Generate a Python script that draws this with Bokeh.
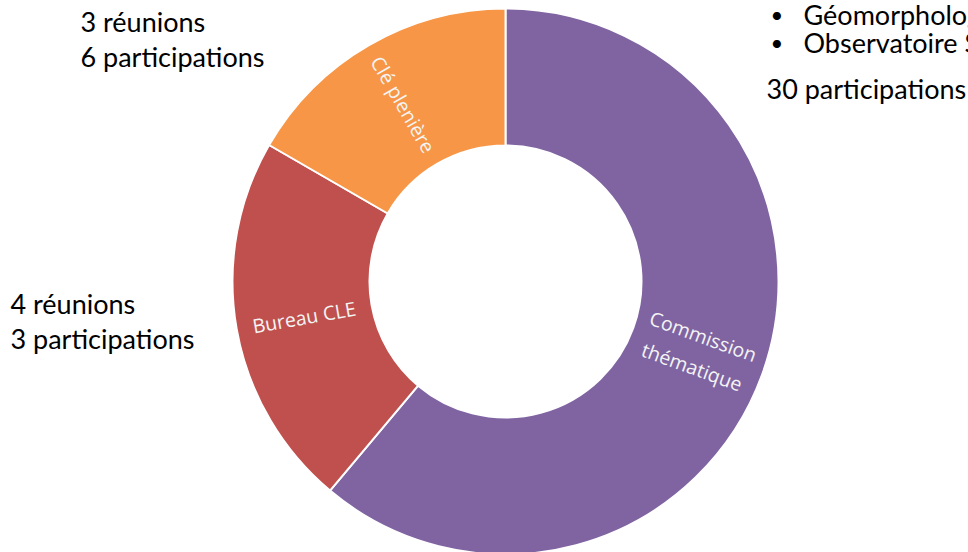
import math
from bokeh.plotting import figure
from bokeh.models import ColumnDataSource
from bokeh.core.properties import value
from bokeh.embed import file_html
from bokeh.resources import INLINE

# Data
categories = ["Commission\nthématique", "Bureau CLE", "Clé plenière"]
counts = [11, 4, 3]
colors = ["#8064A2", "#C0504D", "#F79646"]

left_notes_top = ["3 réunions", "6 participations"]
left_notes_mid = ["4 réunions", "3 participations"]
right_bullets = ["Géomorphologie", "Observatoire Sédimentaire"]
right_note = ["30 participations"]

W, H = 968, 552
p = figure(width=W, height=H, x_range=(0, W), y_range=(0, H),
           output_backend="svg", toolbar_location=None, min_border=0)
p.axis.visible = False
p.grid.visible = False
p.outline_line_color = None
p.background_fill_color = "white"

cx, cy = 505, 271
r_out, r_in = 273, 136

total = sum(counts)
starts, ends, mids = [], [], []
a = math.pi / 2
for c in counts:
    span = 2 * math.pi * c / total
    starts.append(a)
    ends.append(a - span)
    mids.append(a - span / 2)
    a -= span

src = ColumnDataSource(dict(start=starts, end=ends, color=colors))
p.annular_wedge(x=cx, y=cy, inner_radius=r_in, outer_radius=r_out,
                start_angle="start", end_angle="end", direction="clock",
                fill_color="color", line_color="white", line_width=2, source=src)

# slice labels
r_mid = (r_in + r_out) / 2
lx, ly, la = [], [], []
for m in mids:
    lx.append(cx + r_mid * math.cos(m))
    ly.append(cy + r_mid * math.sin(m))
    ang = m if math.cos(m) > 0 else m - math.pi
    la.append(ang)
lsrc = ColumnDataSource(dict(x=lx, y=ly, a=la, t=categories))
p.text(x="x", y="y", text="t", angle="a", source=lsrc,
       text_align="center", text_baseline="middle",
       text_color="#f4f4f4", text_font=value("Open Sans"),
       text_font_size="19.5px", text_line_height=1.2)

font = value("Lato")
fs = "27px"
p.text(x=[80, 80], y=[531, 496], text=left_notes_top, text_font=font,
       text_font_size=fs, text_baseline="middle", text_color="black")
p.text(x=[10, 10], y=[249, 214], text=left_notes_mid, text_font=font,
       text_font_size=fs, text_baseline="middle", text_color="black")
p.text(x=[770, 770], y=[538, 510], text=["•", "•"], text_font=font,
       text_font_size="22px", text_baseline="middle", text_color="black")
p.text(x=[803, 803], y=[538, 510], text=right_bullets, text_font=font,
       text_font_size=fs, text_baseline="middle", text_color="black")
p.text(x=[766], y=[464], text=right_note, text_font=font,
       text_font_size=fs, text_baseline="middle", text_color="black")

open("out.html", "w").write(file_html(p, INLINE))
